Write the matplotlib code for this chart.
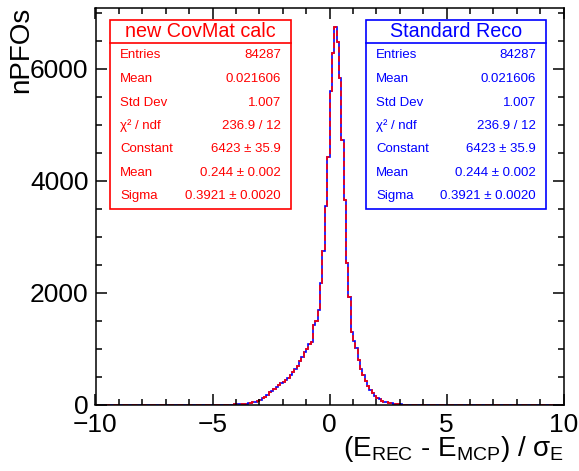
import numpy as np
import matplotlib
matplotlib.use("Agg")
import matplotlib.pyplot as plt

plt.rcParams['font.family'] = ['Liberation Sans', 'DejaVu Sans']
plt.rcParams['mathtext.fontset'] = 'custom'
plt.rcParams['mathtext.rm'] = 'Liberation Sans'
plt.rcParams['mathtext.it'] = 'Liberation Sans'

# histogram binning
x_min, x_max, n_bins = -10.0, 10.0, 200
# counts for the populated window starting at x = -5.0 (bin width 0.1)
window_start = -5.0
counts_window = [
    2, 2, 3, 3, 4, 5, 6, 7, 8, 10,
    12, 14, 17, 20, 25, 30, 37, 45, 58, 72,
    95, 120, 150, 185, 225, 255, 290, 320, 350, 385,
    410, 450, 490, 540, 590, 640, 700, 780, 860, 950,
    1000, 1080, 1120, 1420, 1500, 1700, 2170, 2750, 3550, 4420,
    5600, 6270, 6744, 6480, 5840, 4720, 3650, 2530, 1930, 1300,
    1150, 1020, 800, 640, 540, 430, 330, 260, 210, 160,
    130, 100, 80, 62, 48, 38, 30, 23, 17, 13,
    10, 8, 6, 5, 4, 3, 2, 2, 1, 1,
]
# both histograms carry identical statistics
stats_labels = ["Entries", "Mean", "Std Dev", "χ² / ndf", "Constant", "Mean", "Sigma"]
stats_values = ["84287", "0.021606", "1.007", "236.9 / 12", "6423 ± 35.9", "0.244 ± 0.002", "0.3921 ± 0.0020"]
series_names = ["new CovMat calc", "Standard Reco"]
series_colors = ["#ff0000", "#0000ff"]

edges = np.linspace(x_min, x_max, n_bins + 1)
counts = np.zeros(n_bins)
i0 = int(round((window_start - x_min) / (edges[1] - edges[0])))
counts[i0:i0 + len(counts_window)] = counts_window

W, H = 579, 471
fig = plt.figure(figsize=(W / 100, H / 100), dpi=100)
ax = fig.add_axes([95.5 / W, 1 - 405 / H, (563.5 - 95.5) / W, (405 - 8) / H])

ax.stairs(counts, edges, color=series_colors[1], lw=1.2, baseline=None)
ax.stairs(counts, edges, color=series_colors[0], lw=1.2, baseline=None,
          linestyle=(0, (3.5, 2.0)))

ax.set_xlim(x_min, x_max)
ax.set_ylim(0, counts.max() * 1.05)
ax.set_xticks([-10, -5, 0, 5, 10])
ax.set_xticks(np.arange(-10, 11, 1), minor=True)
ax.set_yticks([0, 2000, 4000, 6000])
ax.set_yticks(np.arange(0, 7001, 500), minor=True)
ax.tick_params(which='both', direction='in', top=True, right=True, width=1.1)
ax.tick_params(which='major', length=8, labelsize=19)
ax.tick_params(axis='x', which='major', pad=6)
ax.tick_params(axis='y', which='major', pad=5)
ax.tick_params(which='minor', length=4)
for s in ax.spines.values():
    s.set_linewidth(1.1)

fig.text(21 / W, 1 - 7 / H, "nPFOs", rotation=90, ha='center', va='top', fontsize=20)
fig.text(564 / W, 1 - 449 / H,
         r"(E$_{\mathrm{REC}}$ - E$_{\mathrm{MCP}}$) / $\mathrm{\sigma}_{\mathrm{E}}$",
         ha='right', va='center', fontsize=20)

# stat boxes (pixel geometry)
boxes = [(110, 291), (366, 546)]
top, bottom, div = 19.5, 209, 42.5
row_y = [55, 79, 102.5, 126, 149.5, 173.5, 196]
for (x0, x1), name, col in zip(boxes, series_names, series_colors):
    rect = plt.Rectangle((x0 / W, 1 - bottom / H), (x1 - x0) / W, (bottom - top) / H,
                         transform=fig.transFigure, facecolor='white', edgecolor=col,
                         lw=1.2, zorder=5)
    fig.add_artist(rect)
    fig.add_artist(plt.Line2D([x0 / W, x1 / W], [1 - div / H, 1 - div / H],
                              transform=fig.transFigure, color=col, lw=1.2, zorder=6))
    fig.text((x0 + x1) / 2 / W, 1 - 31.5 / H, name, ha='center', va='center',
             fontsize=14.2, color=col, zorder=7)
    for lab, val, yy in zip(stats_labels, stats_values, row_y):
        fig.text((x0 + 10) / W, 1 - yy / H, lab, ha='left', va='center',
                 fontsize=9.5, color=col, zorder=7)
        fig.text((x1 - 10) / W, 1 - yy / H, val, ha='right', va='center',
                 fontsize=9.5, color=col, zorder=7)

fig.savefig("out.png", dpi=100)
